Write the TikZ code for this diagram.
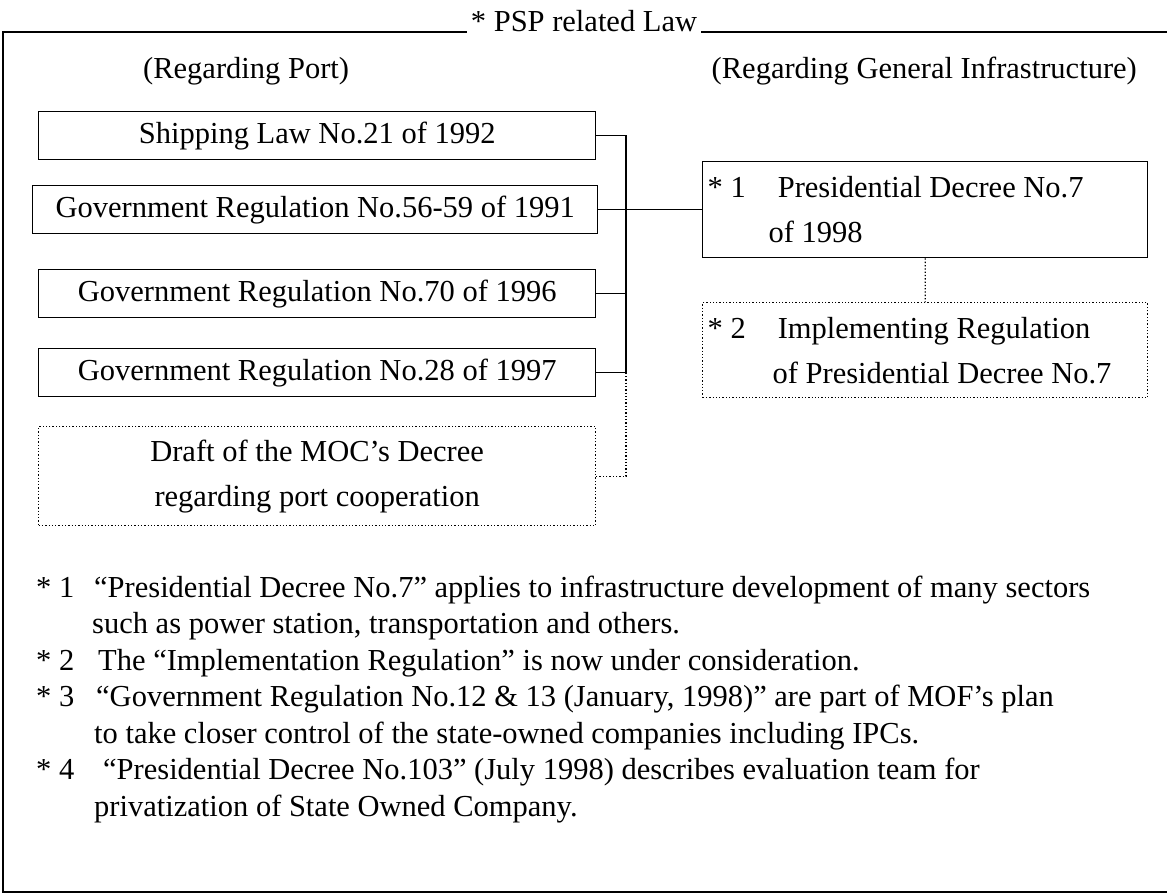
\documentclass[tikz,border=0pt]{standalone}
\usepackage{fontspec}
\setmainfont{Liberation Serif}
\begin{document}
\begin{tikzpicture}[x=1pt,y=-1pt,
  every node/.style={font=\fontsize{30.5}{45}\selectfont, inner sep=0pt},
  frame/.style={line width=1.5pt},
  conn/.style={line width=1.4pt},
  dotconn/.style={line width=1.3pt, dotted},
  lawbox/.style={draw, line width=1.4pt, anchor=north west, minimum height=48pt},
  dotbox/.style={draw, line width=1.3pt, dotted, anchor=north west},
  fn/.style={anchor=base west},
]
\useasboundingbox (0,0) rectangle (1167,896);

% outer frame with the heading set into its top rule
\coordinate (tl) at (3,32);
\coordinate (tr) at (1167,32);
\coordinate (bl) at (3,892);
\coordinate (br) at (1167,892);
\node[anchor=base] (title) at (584,32) {* PSP related Law};
\draw[frame] ([xshift=-4pt]title.base west) -- (tl) -- (bl) -- (br);
\draw[frame] ([xshift=4pt]title.base east) -- (tr);

% column headings
\node[fn] (hport) at (143,79) {(Regarding Port)};
\node[anchor=base east] (hinfra) at (1137,79) {(Regarding General Infrastructure)};

% port related regulations
\node[lawbox, minimum width=557pt] (b1) at (38,111) {Shipping Law No.21 of 1992};
\node[lawbox, minimum width=565pt] (b2) at (32,185) {Government Regulation No.56-59 of 1991};
\node[lawbox, minimum width=557pt] (b3) at (38,269) {Government Regulation No.70 of 1996};
\node[lawbox, minimum width=557pt] (b4) at (38,348) {Government Regulation No.28 of 1997};
\node[dotbox, minimum width=557pt, minimum height=99pt, align=center] (draft) at (38,426)
  {Draft of the MOC’s Decree\\regarding port cooperation};

% general infrastructure regulations
\node[lawbox, minimum width=445pt, minimum height=96pt, align=left, text width=435pt, inner xsep=5pt] (pres) at (702,161)
  {\spaceskip=0pt\relax * 1\hspace{32pt}Presidential Decree No.7\\\hspace{61pt}of 1998};
\node[dotbox, minimum width=445pt, minimum height=95pt, align=left, text width=435pt, inner xsep=5pt] (impl) at (702,302)
  {\spaceskip=0pt\relax * 2\hspace{32pt}Implementing Regulation\\\hspace{65pt}of Presidential Decree No.7};

% connectors
\coordinate (bus) at (626,0);
\draw[conn] (b1.east) -- (b1.east -| bus) -- (b4.east -| bus) -- (b4.east);
\draw[conn] (b2.east) -- (pres.west);
\draw[conn] (b3.east) -- (b3.east -| bus);
\draw[dotconn] (b4.east -| bus) -- (draft.east -| bus) -- (draft.east);
\draw[dotconn] (pres.south) -- (impl.north);

% notes
\node[fn] (n1a) at (36,597) {* 1};
\node[fn] (n1b) at (94,597) {“Presidential Decree No.7” applies to infrastructure development of many sectors};
\node[fn] (n1c) at (92,633.5) {such as power station, transportation and others.};
\node[fn] (n2a) at (36,670) {* 2};
\node[fn] (n2b) at (98,670) {The “Implementation Regulation” is now under consideration.};
\node[fn] (n3a) at (36,706.5) {* 3};
\node[fn] (n3b) at (96,706.5) {“Government Regulation No.12 \& 13 (January, 1998)” are part of MOF’s plan};
\node[fn] (n3c) at (94,743) {to take closer control of the state-owned companies including IPCs.};
\node[fn] (n4a) at (36,779.5) {* 4};
\node[fn] (n4b) at (103,779.5) {“Presidential Decree No.103” (July 1998) describes evaluation team for};
\node[fn] (n4c) at (94,816) {privatization of State Owned Company.};
\end{tikzpicture}
\end{document}
